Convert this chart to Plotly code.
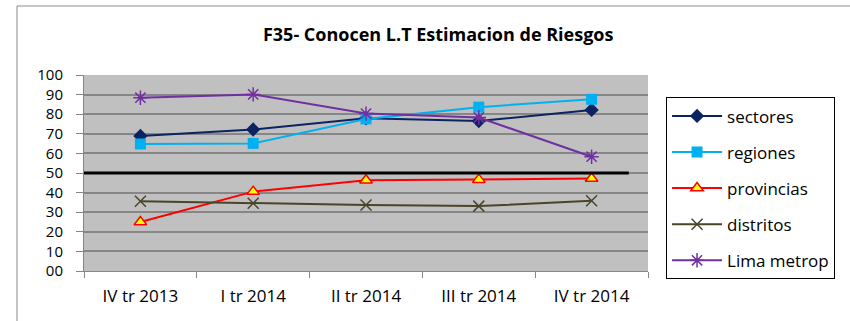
import plotly.graph_objects as go

# Quarterly percentages per administrative level
quarters = ["IV tr 2013", "I tr 2014", "II tr 2014", "III tr 2014", "IV tr 2014"]
sectores = [68.9, 72.2, 77.9, 76.5, 82.2]
regiones = [64.8, 65.1, 77.6, 83.6, 87.6]
provincias = [25.0, 40.5, 46.3, 46.6, 47.2]
distritos = [35.6, 34.6, 33.7, 33.1, 35.8]
lima_metrop = [88.4, 90.1, 80.3, 78.3, 58.3]

y_ticks = [0, 10, 20, 30, 40, 50, 60, 70, 80, 90, 100]
y_tick_text = ["00", "10", "20", "30", "40", "50", "60", "70", "80", "90", "100"]
threshold = 50

FONT = "Open Sans"

series = [
    ("sectores", sectores, "#0B2361", dict(symbol="diamond", size=11, color="#0B2361")),
    ("regiones", regiones, "#00B0F0", dict(symbol="square", size=11, color="#00B0F0")),
    ("provincias", provincias, "#FF0000",
     dict(symbol="triangle-up", size=11, color="#FFFF00", line=dict(color="#FF0000", width=1.5))),
    ("distritos", distritos, "#4A452A",
     dict(symbol="x-thin", size=11, color="#4A452A", line=dict(color="#4A452A", width=1.5))),
    ("Lima metrop", lima_metrop, "#7030A0",
     dict(symbol="asterisk", size=12, color="#7030A0", line=dict(color="#7030A0", width=1.5))),
]

fig = go.Figure()
for name, vals, color, marker in series:
    fig.add_trace(go.Scatter(
        x=quarters, y=vals, name=name, mode="lines+markers",
        line=dict(color=color, width=2), marker=marker,
        legendgroup=name,
    ))

# Reference line at 50
fig.add_shape(type="line", xref="x", yref="y", x0=-0.5, x1=4.33,
              y0=threshold, y1=threshold, line=dict(color="black", width=3), layer="above")

# Outer chart frame
fig.add_shape(type="rect", xref="paper", yref="paper", x0=-0.1188, x1=2, y0=-1, y1=1.352,
              line=dict(color="#8C8C8C", width=1), fillcolor="rgba(0,0,0,0)", layer="below")

fig.update_layout(
    width=850, height=321,
    margin=dict(l=84, r=202, t=75, b=50),
    paper_bgcolor="white",
    plot_bgcolor="#C0C0C0",
    font=dict(family=FONT, color="black", size=15),
    title=dict(text="<b>F35- Conocen L.T Estimacion de Riesgos</b>",
               font=dict(family=FONT, size=18, color="black"),
               xref="paper", x=0.628, xanchor="center",
               yref="container", y=0.891, yanchor="middle"),
    legend=dict(
        x=1.032, xanchor="left", y=0.886, yanchor="top",
        bordercolor="black", borderwidth=1, bgcolor="white",
        font=dict(family=FONT, size=17, color="black"),
        tracegroupgap=11, traceorder="grouped", itemwidth=50,
    ),
    showlegend=True,
)

fig.update_xaxes(
    type="category", range=[-0.5, 4.5],
    showgrid=False, showline=True, linecolor="#868686", linewidth=1,
    ticks="outside", tickson="boundaries", ticklen=6, tickcolor="#868686",
    tickfont=dict(family=FONT, size=17), ticklabelstandoff=10,
)
fig.update_yaxes(
    range=[0, 100], tickvals=y_ticks, ticktext=y_tick_text,
    showgrid=True, gridcolor="#868686", gridwidth=1.5,
    showline=True, linecolor="#868686", linewidth=1,
    ticks="outside", ticklen=7, tickcolor="#868686",
    tickfont=dict(family=FONT, size=15), zeroline=False, ticklabelstandoff=10,
)

fig.write_html("out.html")
